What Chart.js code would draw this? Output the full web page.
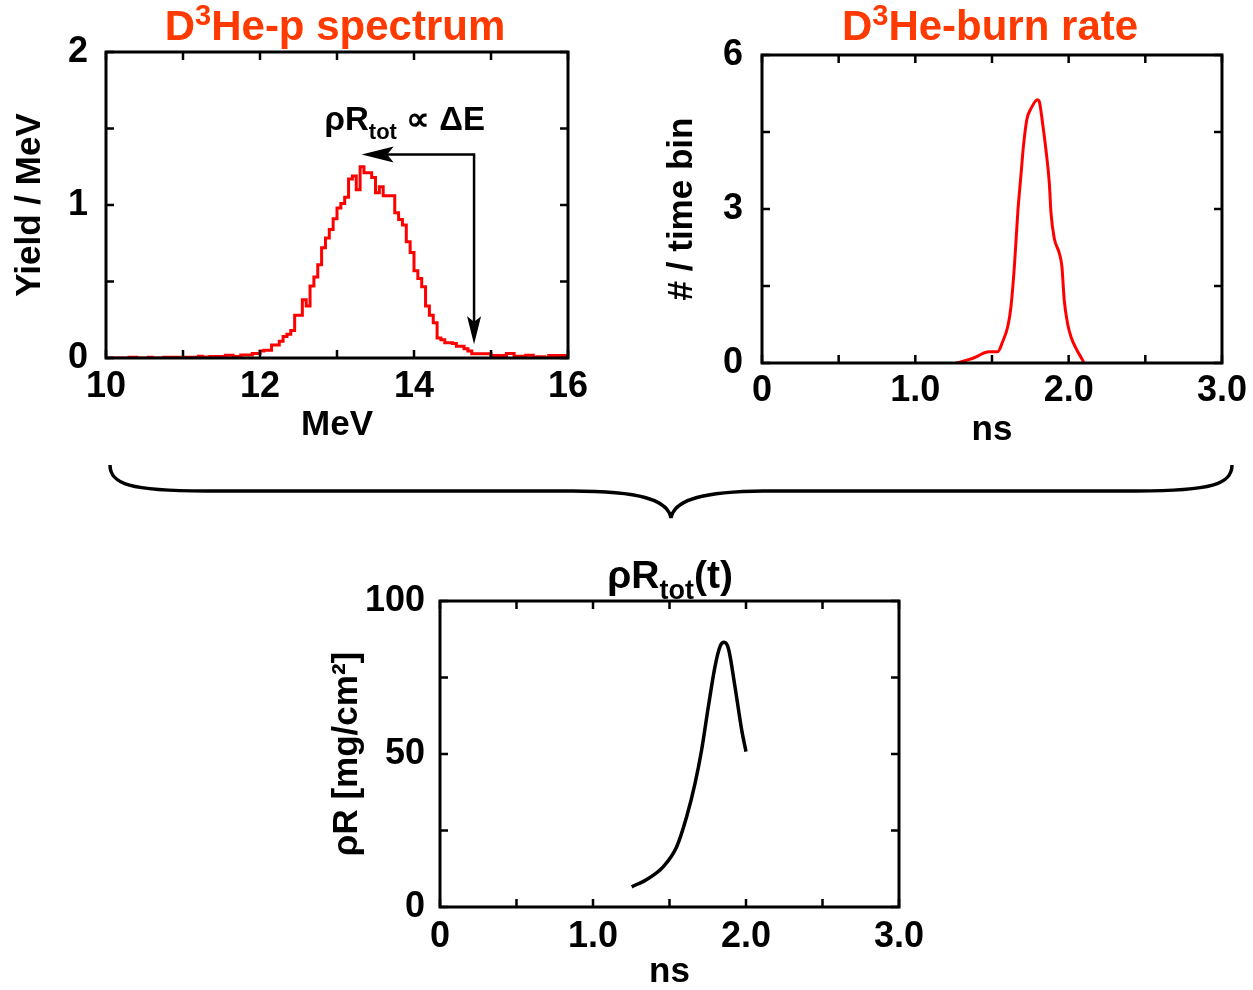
<!DOCTYPE html>
<html lang="en">
<head>
  <meta charset="UTF-8" />
  <title>D3He-p spectrum, burn rate and rhoR(t)</title>
  <script src="https://cdn.jsdelivr.net/npm/chart.js"></script>
  <style>
    html, body { margin: 0; padding: 0; background: #fff; }
    body { width: 1253px; height: 990px; position: relative; overflow: hidden; }
    canvas { position: absolute; }
    #brace { position: absolute; left: 0; top: 0; pointer-events: none; }
  </style>
</head>
<body>
  <canvas id="specChart" width="620" height="455" style="left:0;top:0"></canvas>
  <canvas id="burnChart" width="613" height="455" style="left:640px;top:0"></canvas>
  <canvas id="rhoRChart" width="620" height="440" style="left:320px;top:550px"></canvas>

  <!-- curly brace joining the two top panels -->
  <svg id="brace" width="1253" height="990">
    <path d="M110,465 C110,484 130,491 205,491 L572,491 C640,491 668,500 671,518 C674,500 702,491 770,491 L1137,491 C1212,491 1232,484 1232,465"
          fill="none" stroke="#000" stroke-width="3.5" />
  </svg>

  <script>
    const FONT = "'Liberation Sans', Arial, Helvetica, sans-serif";
    Chart.defaults.font.family = FONT;
    Chart.defaults.font.weight = 'bold';
    Chart.defaults.color = '#000';

    // D3He-p spectrum, 0.05 MeV bins starting at 10 MeV
    const binStart = 10;
    const binWidth = 0.05;
    const spectrumYield = [
      0, 0, 0, 0, 0, 0, 0.005, 0.005, 0, 0,
      0, 0.005, 0, 0, 0, 0.005, 0.005, 0.005, 0.005, 0,
      0.005, 0.005, 0.005, 0.005, 0.012, 0.006, 0.006, 0.01, 0.01, 0.01,
      0.01, 0.018, 0.018, 0.01, 0.01, 0.02, 0.02, 0.02, 0.03, 0.03,
      0.045, 0.05, 0.05, 0.085, 0.085, 0.11, 0.14, 0.155, 0.18, 0.28,
      0.28, 0.38, 0.34, 0.47, 0.53, 0.61, 0.72, 0.785, 0.84, 0.91,
      0.98, 1.01, 1.05, 1.17, 1.19, 1.10, 1.25, 1.21, 1.21, 1.18,
      1.08, 1.12, 1.06, 1.06, 1.06, 0.95, 0.905, 0.87, 0.76, 0.69,
      0.57, 0.52, 0.465, 0.34, 0.28, 0.23, 0.13, 0.12, 0.10, 0.10,
      0.095, 0.077, 0.077, 0.06, 0.045, 0.027, 0.027, 0.027, 0.027, 0.027,
      0.016, 0.016, 0.016, 0.016, 0.03, 0.03, 0.012, 0.012, 0.012, 0.018,
      0.018, 0.005, 0.008, 0.008, 0.003, 0.016, 0.016, 0.016, 0.016, 0.016
    ];

    // D3He burn rate
    const burnTime = [1.267, 1.353, 1.397, 1.451, 1.483, 1.537, 1.57, 1.603, 1.624, 1.646, 1.668, 1.69, 1.705, 1.727, 1.755, 1.797, 1.808,
                      1.83, 1.852, 1.874, 1.885, 1.906, 1.939, 1.956, 1.971, 1.993, 2.015, 2.047, 2.09, 2.1];
    const burnRate = [0, 0.07, 0.12, 0.2, 0.22, 0.22, 0.42, 0.71, 1.10, 1.88, 2.92, 3.70, 4.22, 4.74, 4.96, 5.13, 5.1,
                      4.67, 4.15, 3.50, 2.92, 2.43, 2.14, 1.88, 1.23, 0.77, 0.51, 0.29, 0.06, 0];

    // total rhoR vs time
    const rhoRTime = [1.253, 1.351, 1.46, 1.547, 1.612, 1.667, 1.71, 1.754, 1.797, 1.83, 1.856, 1.885, 1.928, 1.972, 2.0];
    const rhoRValue = [6.6, 9.0, 13.2, 19.7, 29.5, 40.4, 51.3, 65.5, 78.5, 85.1, 86.5, 84.5, 72, 57.8, 50.8];

    // annotation arrow in spectrum units (MeV, yield)
    const arrowCorner = { x: 14.78, y: 1.33 };
    const arrowLeftTip = 13.32;
    const arrowDownTip = 0.09;
    const arrowLabel = { x: 13.88, y: 1.49 };

    const specPoints = spectrumYield.map((v, i) => ({ x: binStart + i * binWidth, y: v }));
    specPoints.push({ x: 16, y: spectrumYield[spectrumYield.length - 1] });

    // text with sub/superscripts: parts = [[text, mode]], mode 1 = sup, -1 = sub
    function drawRich(ctx, parts, cx, baseline, size, color) {
      const fontFor = m => `bold ${m ? Math.round(size * 0.68) : size}px ${FONT}`;
      let w = 0;
      parts.forEach(([t, m]) => { ctx.font = fontFor(m); w += ctx.measureText(t).width; });
      let x = cx - w / 2;
      ctx.save();
      ctx.fillStyle = color;
      ctx.textAlign = 'left';
      ctx.textBaseline = 'alphabetic';
      parts.forEach(([t, m]) => {
        ctx.font = fontFor(m);
        const dy = m === 1 ? -size * 0.36 : m === -1 ? size * 0.28 : 0;
        ctx.fillText(t, x, baseline + dy);
        x += ctx.measureText(t).width;
      });
      ctx.restore();
    }

    function arrowHead(ctx, tx, ty, dx, dy, len, half) {
      const bx = tx - dx * len, by = ty - dy * len;
      const nx = -dy, ny = dx;
      const mx = tx - dx * len * 0.8, my = ty - dy * len * 0.8;
      ctx.beginPath();
      ctx.moveTo(tx, ty);
      ctx.lineTo(bx + nx * half, by + ny * half);
      ctx.lineTo(mx, my);
      ctx.lineTo(bx - nx * half, by - ny * half);
      ctx.closePath();
      ctx.fill();
    }

    // box round the plot with inward ticks on all four sides
    const frameBox = {
      id: 'frameBox',
      afterDatasetsDraw(chart) {
        const { ctx, chartArea: a, scales: { x, y } } = chart;
        const tl = 8;
        ctx.save();
        ctx.strokeStyle = '#000';
        ctx.lineWidth = 2.5;
        ctx.beginPath();
        x.ticks.forEach(t => {
          const px = x.getPixelForValue(t.value);
          ctx.moveTo(px, a.bottom); ctx.lineTo(px, a.bottom - tl);
          ctx.moveTo(px, a.top); ctx.lineTo(px, a.top + tl);
        });
        y.ticks.forEach(t => {
          const py = y.getPixelForValue(t.value);
          ctx.moveTo(a.left, py); ctx.lineTo(a.left + tl, py);
          ctx.moveTo(a.right, py); ctx.lineTo(a.right - tl, py);
        });
        ctx.stroke();
        ctx.lineWidth = 3;
        ctx.strokeRect(a.left, a.top, a.right - a.left, a.bottom - a.top);
        ctx.restore();
      }
    };

    function titlePlugin(parts, x, y, size, color) {
      return {
        id: 'richTitle',
        afterDraw(chart) { drawRich(chart.ctx, parts, x, y, size, color); }
      };
    }

    const specAnnotation = {
      id: 'specAnnotation',
      afterDatasetsDraw(chart) {
        const { ctx, scales: { x, y } } = chart;
        const cx = x.getPixelForValue(arrowCorner.x), cy = y.getPixelForValue(arrowCorner.y);
        const lx = x.getPixelForValue(arrowLeftTip), by = y.getPixelForValue(arrowDownTip);
        ctx.save();
        ctx.strokeStyle = '#000';
        ctx.fillStyle = '#000';
        ctx.lineWidth = 2.5;
        ctx.beginPath();
        ctx.moveTo(lx + 25, cy); ctx.lineTo(cx, cy); ctx.lineTo(cx, by - 22);
        ctx.stroke();
        arrowHead(ctx, lx, cy, -1, 0, 32, 8);
        arrowHead(ctx, cx, by, 0, 1, 28, 7);
        ctx.restore();
        drawRich(ctx, [['ρR', 0], ['tot', -1], [' ∝ ΔE', 0]],
          x.getPixelForValue(arrowLabel.x), y.getPixelForValue(arrowLabel.y), 33, '#000');
      }
    };

    function axis(min, max, step, fontSize, pad, fmt, title, titlePad, titleLH, size, isX) {
      return {
        type: 'linear', min, max,
        grid: { display: false, drawTicks: false },
        border: { display: false },
        ticks: { stepSize: step, autoSkip: false, maxRotation: 0, padding: pad, font: { size: fontSize }, callback: fmt },
        title: { display: true, text: title, font: { size: 35, lineHeight: titleLH }, padding: titlePad },
        afterFit: s => { if (isX) s.height = size; else s.width = size; }
      };
    }

    const base = {
      responsive: false,
      animation: false,
      plugins: { legend: { display: false }, tooltip: { enabled: false } }
    };

    const nsLabel = v => v === 0 ? '0' : (Number.isInteger(v) ? v.toFixed(1) : '');
    const ORANGE = '#ff3a00';

    new Chart(document.getElementById('specChart'), {
      type: 'line',
      data: { datasets: [{ data: specPoints, borderColor: '#ff0000', borderWidth: 3, pointRadius: 0, stepped: 'before', fill: false }] },
      options: {
        ...base,
        layout: { padding: { left: 0, top: 52, right: 52, bottom: 0 } },
        scales: {
          x: axis(10, 16, 1, 36, 7, v => v % 2 === 0 ? v : '', 'MeV', { top: 0, bottom: 9 }, 1.2, 97, true),
          y: axis(0, 2, 0.5, 36, 18, v => Number.isInteger(v) ? v : '', 'Yield / MeV', { top: 9, bottom: 0 }, 1.2, 106, false)
        }
      },
      plugins: [frameBox, specAnnotation, titlePlugin([['D', 0], ['3', 1], ['He-p spectrum', 0]], 335, 40, 42, ORANGE)]
    });

    new Chart(document.getElementById('burnChart'), {
      type: 'line',
      data: {
        datasets: [{
          data: burnTime.map((t, i) => ({ x: t, y: burnRate[i] })),
          borderColor: '#ff0000', borderWidth: 3, pointRadius: 0, cubicInterpolationMode: 'monotone', fill: false
        }]
      },
      options: {
        ...base,
        layout: { padding: { left: 0, top: 55, right: 30, bottom: 0 } },
        scales: {
          x: axis(0, 3, 0.5, 36, 6, nsLabel, 'ns', { top: 0, bottom: 4 }, 1.2, 92, true),
          y: axis(0, 6, 1.5, 36, 19, v => v % 3 === 0 ? v : '', '# / time bin', { top: 21, bottom: 0 }, 1.2, 122, false)
        }
      },
      plugins: [frameBox, titlePlugin([['D', 0], ['3', 1], ['He-burn rate', 0]], 350, 40, 42, ORANGE)]
    });

    new Chart(document.getElementById('rhoRChart'), {
      type: 'line',
      data: {
        datasets: [{
          data: rhoRTime.map((t, i) => ({ x: t, y: rhoRValue[i] })),
          borderColor: '#000', borderWidth: 3.5, pointRadius: 0, cubicInterpolationMode: 'monotone', fill: false
        }]
      },
      options: {
        ...base,
        layout: { padding: { left: 0, top: 51, right: 41, bottom: 0 } },
        scales: {
          x: axis(0, 3, 0.5, 36, 8, nsLabel, 'ns', { top: 0, bottom: 0 }, 1.0, 83, true),
          y: axis(0, 100, 25, 36, 15, v => v % 50 === 0 ? v : '', 'ρR [mg/cm²]', { top: 6, bottom: 0 }, 1.2, 120, false)
        }
      },
      plugins: [frameBox, titlePlugin([['ρR', 0], ['tot', -1], ['(t)', 0]], 350, 38, 39, '#000')]
    });
  </script>
</body>
</html>
